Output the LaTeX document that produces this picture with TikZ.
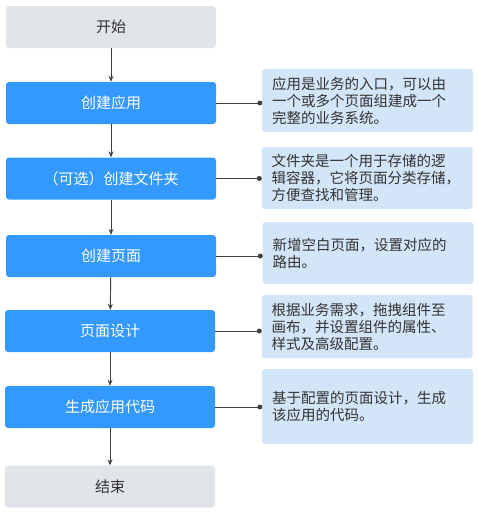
\documentclass[tikz,border=0pt]{standalone}
\usepackage{fontspec}
\setmainfont{Noto Sans CJK SC}
\usetikzlibrary{arrows.meta}
\definecolor{stepblue}{HTML}{3399FF}
\definecolor{termgray}{HTML}{E1E4E8}
\definecolor{notefill}{HTML}{D3E5F8}
\definecolor{txt}{HTML}{333333}
\definecolor{linec}{HTML}{404040}
\begin{document}
\begin{tikzpicture}[x=1pt,y=-1pt,
 stepbox/.style={fill=stepblue, rounded corners=3pt, minimum width=210pt, minimum height=42pt, text=white, font=\fontsize{15}{18}\selectfont, inner sep=0pt},
 termbox/.style={stepbox, fill=termgray, text=txt},
 notebox/.style={fill=notefill, rounded corners=3pt, minimum width=211pt, text width=191pt, inner xsep=10pt, inner ysep=0pt, align=left, text=txt, font=\fontsize{14.5}{17}\selectfont},
 flow/.style={draw=linec, line width=0.9pt, -{Stealth[length=6pt,width=5pt]}},
 link/.style={draw=linec, line width=0.9pt},
 dotmark/.style={circle, fill=linec, inner sep=0pt, minimum size=5pt},
]
\useasboundingbox (0,0) rectangle (477,514);
\node[termbox] (start) at (111,27) {开始};
\node[stepbox] (s1) at (111,103) {创建应用};
\node[stepbox] (s2) at (111,178.5) {（可选）创建文件夹};
\node[stepbox] (s3) at (111,256) {创建页面};
\node[stepbox] (s4) at (110,331) {页面设计};
\node[stepbox] (s5) at (110,407) {生成应用代码};
\node[termbox] (end) at (110,486.5) {结束};

\node[notebox, minimum height=63pt] (n1) at (367.5,100.5) {应用是业务的入口，可以由\\一个或多个页面组建成一个\\完整的业务系统。};
\node[notebox, minimum height=62pt] (n2) at (367,178) {文件夹是一个用于存储的逻\\辑容器，它将页面分类存储，\\方便查找和管理。};
\node[notebox, minimum height=62pt] (n3) at (368,253) {新增空白页面，设置对应的\\路由。};
\node[notebox, minimum height=63pt] (n4) at (367,326.5) {根据业务需求，拖拽组件至\\画布，并设置组件的属性、\\样式及高级配置。};
\node[notebox, minimum height=75pt] (n5) at (367.5,406.5) {基于配置的页面设计，生成\\该应用的代码。};

\draw[flow] (start) -- (s1);
\draw[flow] (s1) -- (s2);
\draw[flow] (s2) -- (s3);
\draw[flow] (s3) -- (s4);
\draw[flow] (s4) -- (s5);
\draw[flow] (s5) -- (end);

\foreach \a/\b in {s1/n1, s2/n2, s3/n3, s4/n4, s5/n5} {
  \draw[link] (\a.east) -- ([xshift=-2pt]\a.east -| \b.west) node[dotmark] {};
}
\end{tikzpicture}
\end{document}
